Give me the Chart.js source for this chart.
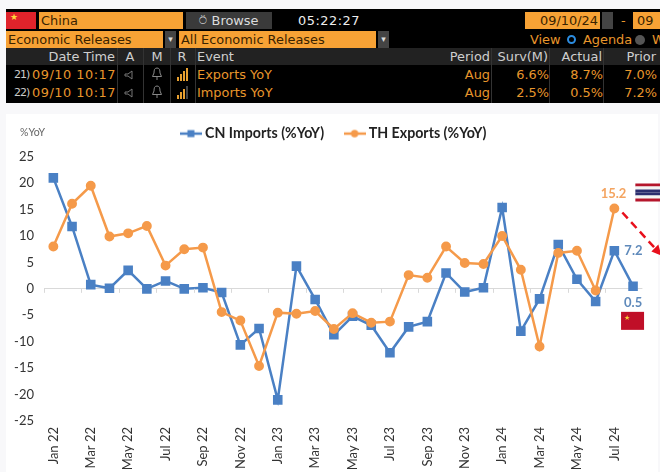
<!DOCTYPE html>
<html>
<head>
<meta charset="utf-8">
<title>CN imports vs TH exports</title>
<script src="https://cdn.jsdelivr.net/npm/chart.js@4"></script>
<style>
    html, body { margin: 0; padding: 0; width: 660px; height: 472px; overflow: hidden; background: #f8f8fa; }
    #term { position: absolute; left: 6px; top: 9px; width: 654px; height: 94px; background: #000; overflow: hidden;
            font-family: "DejaVu Sans", sans-serif; font-size: 12.9px; line-height: 17px; color: #e8962c; }
    #term div { position: absolute; white-space: nowrap; }
    .fld { background: #f7a235; color: #3a2200; height: 17px; }
    .hdr { color: #cfcfcf; }
    .r { text-align: right; }
    .num { letter-spacing: 0.5px; }
    #panel { position: absolute; left: 6px; top: 114px; width: 652px; height: 358px; background: #fff; }
    #wrap { position: absolute; left: 0; top: 103px; width: 660px; height: 369px; }
</style>
</head>
<body>
<div id="panel"></div>
<div id="term"></div>
<div id="wrap"><canvas id="chart" width="660" height="369"></canvas></div>
<script>
// Chart data
var months = ["Jan 22","Feb 22","Mar 22","Apr 22","May 22","Jun 22","Jul 22","Aug 22","Sep 22","Oct 22","Nov 22","Dec 22",
              "Jan 23","Feb 23","Mar 23","Apr 23","May 23","Jun 23","Jul 23","Aug 23","Sep 23","Oct 23","Nov 23","Dec 23",
              "Jan 24","Feb 24","Mar 24","Apr 24","May 24","Jun 24","Jul 24","Aug 24"];
var cnImports = [21,11.8,0.8,0.1,3.5,0,1.5,0,0.2,-0.7,-10.6,-7.5,
                 -21,4.3,-2,-8.7,-5.2,-6.9,-12.1,-7.2,-6.2,3,-0.6,0.2,
                 15.4,-8,-1.9,8.4,1.8,-2.4,7.2,0.5];
var thExports = [8,16.1,19.5,9.9,10.5,11.9,4.4,7.5,7.8,-4.4,-6,-14.6,
                 -4.5,-4.7,-4.2,-7.6,-4.6,-6.4,-6.2,2.6,2.1,8,4.9,4.7,
                 10,3.6,-10.9,6.8,7.2,-0.3,15.2,null];
var yTicks = [25,20,15,10,5,0,-5,-10,-15,-20,-25];

// Terminal table data
var eventRows = [
    ["21)","09/10 10:17","Exports YoY","Aug","6.6%","8.7%","7.0%"],
    ["22)","09/10 10:17","Imports YoY","Aug","2.5%","0.5%","7.2%"]
];

const BLUE = "#4a80c4";
const ORANGE = "#f59a4a";
const FONT = "Lato, sans-serif";

const SPEAKER = '<svg width="12" height="12" viewBox="0 0 12 12"><path d="M1 5h3l4-3v8L4 7H1z" fill="none" stroke="#777"/></svg>';
const BELL = '<svg width="12" height="14" viewBox="0 0 12 14"><path d="M6 1C3.5 1 3 3 3 6L1.5 9.5h9L9 6C9 3 8.5 1 6 1zM6 9.5V13" fill="none" stroke="#888"/></svg>';

// Build the black terminal strip on top
function addBox(left, top, width, height, text, cls, css) {
    var d = document.createElement("div");
    d.style.left = left + "px";
    d.style.top = top + "px";
    d.style.width = width + "px";
    d.style.height = height + "px";
    if (cls) d.className = cls;
    if (text) d.textContent = text;
    if (css) d.style.cssText += css;
    document.getElementById("term").appendChild(d);
    return d;
}

function buildTerm() {
    // Row 1
    addBox(0, 3, 30, 17, "", "", "background:#e0232b");
    addBox(4, 3, 12, 12, "★", "", "color:#ffd83a;font-size:9px;line-height:10px");
    addBox(33, 3, 144, 17, "China", "fld", "text-indent:2px");
    addBox(180, 3, 86, 17, "⍥ Browse", "", "background:#3a3a3a;color:#ddd;text-align:center");
    addBox(292, 3, 70, 17, "05:22:27", "num", "color:#eee");
    addBox(519, 3, 75, 17, "09/10/24", "fld r", "padding-right:2px;width:73px");
    addBox(596, 3, 11, 17, "", "", "background:#444");
    addBox(615, 3, 10, 17, "-");
    addBox(627, 3, 27, 17, "09", "fld", "text-indent:4px");
    // Row 2
    addBox(0, 22, 157, 17, "Economic Releases", "fld", "text-indent:2px");
    addBox(159, 22, 11, 17, "▾", "", "background:#444;color:#ddd;font-size:9px;text-align:center");
    addBox(173, 22, 197, 17, "All Economic Releases", "fld", "text-indent:2px");
    addBox(372, 22, 11, 17, "▾", "", "background:#444;color:#ddd;font-size:9px;text-align:center");
    addBox(524, 22, 32, 17, "View");
    addBox(561, 26, 5, 5, "", "", "border:2.5px solid #2c8ce0;border-radius:50%");
    addBox(577, 22, 52, 17, "Agenda");
    addBox(629, 26, 10, 10, "", "", "background:#555;border-radius:50%");
    addBox(646, 22, 10, 17, "W");
    // Header
    addBox(0, 39, 654, 17, "", "", "background:#222");
    addBox(0, 39, 109, 17, "Date Time", "hdr r");
    addBox(114, 39, 20, 17, "A", "hdr", "text-align:center");
    addBox(141, 39, 20, 17, "M", "hdr", "text-align:center");
    addBox(166, 39, 20, 17, "R", "hdr", "text-align:center");
    addBox(191, 39, 60, 17, "Event", "hdr");
    addBox(420, 39, 64, 17, "Period", "hdr r");
    addBox(486, 39, 56, 17, "Surv(M)", "hdr r");
    addBox(544, 39, 52, 17, "Actual", "hdr r");
    addBox(600, 39, 50, 17, "Prior", "hdr r");
    // Event rows
    eventRows.forEach(function (row, i) {
        var top = 57 + i * 18;
        addBox(8, top, 20, 17, row[0], "", "color:#ccc;font-size:11px;letter-spacing:-1px");
        addBox(26, top, 84, 17, row[1], "num");
        addBox(118, top + 2, 12, 14, "", "").innerHTML = SPEAKER;
        addBox(145, top + 1, 12, 15, "", "").innerHTML = BELL;
        addBox(191, top, 120, 17, row[2]);
        addBox(420, top, 64, 17, row[3], "r");
        addBox(486, top, 57, 17, row[4], "r");
        addBox(544, top, 53, 17, row[5], "r");
        addBox(600, top, 51, 17, row[6], "r");
        // signal bars in the R column
        [4, 7, 10, 13].forEach(function (h, j) {
            addBox(171 + j * 3, top + 15 - h, 2, h, "", "", "background:" + (j < 3 + (i == 0 ? 1 : 0) ? "#e8a030" : "#444"));
        });
    });
    // column separators
    [111, 137, 164, 189, 485, 543, 597].forEach(function (x) {
        addBox(x, 39, 1, 55, "", "", "background:#333");
    });
}

// Legend swatch: a short line with the marker in the middle
function legendSwatch(color, style) {
    var c = document.createElement("canvas");
    c.width = 22;
    c.height = 10;
    var g = c.getContext("2d");
    g.strokeStyle = color;
    g.fillStyle = color;
    g.lineWidth = 2.5;
    g.beginPath();
    g.moveTo(0, 5);
    g.lineTo(22, 5);
    g.stroke();
    if (style == "rect") {
        g.fillRect(7.5, 1.5, 7, 7);
    } else {
        g.beginPath();
        g.arc(11, 5, 3.7, 0, Math.PI * 2);
        g.fill();
    }
    return c;
}

// Everything annotated on the plot: zero-line ticks, %YoY, end labels, flags, arrow
var annotations = {
    id: "annotations",
    beforeLayout: function (chart) {
        // more room under the legend
        var legend = chart.legend;
        var fit = legend.fit;
        legend.fit = function () {
            fit.call(legend);
            legend.height += 6;
        };
    },
    afterLayout: function (chart) {
        // the legend sits right of the plot centre in the original
        chart.legend.left += 28;
    },
    afterDatasetsDraw: function (chart) {
        var ctx = chart.ctx;
        var x = chart.scales.x;
        var y = chart.scales.y;
        var zero = y.getPixelForValue(0);
        var step = x.getPixelForValue(1) - x.getPixelForValue(0);
        var last = months.length - 1;

        ctx.save();
        ctx.font = "10.5px " + FONT;
        ctx.fillStyle = "#666";
        ctx.textBaseline = "middle";
        ctx.textAlign = "left";
        ctx.fillText("%YoY", 20, 30);

        ctx.font = "bold 13px " + FONT;
        ctx.fillStyle = "#f4a460";
        ctx.textAlign = "right";
        ctx.fillText(String(thExports[last - 1].toFixed(1)), x.getPixelForValue(last - 1) + 12, y.getPixelForValue(thExports[last - 1]) - 15);
        ctx.fillStyle = "#5f8abb";
        ctx.textAlign = "left";
        ctx.fillText(String(cnImports[last - 1].toFixed(1)), x.getPixelForValue(last - 1) + 10, y.getPixelForValue(cnImports[last - 1]));
        ctx.fillText(String(cnImports[last].toFixed(1)), x.getPixelForValue(last) - 9, y.getPixelForValue(cnImports[last]) + 17);

        // Red dashed arrow leaving the chart on the right
        var ax = x.getPixelForValue(last - 1);
        var ay = y.getPixelForValue(thExports[last - 1]);
        ctx.strokeStyle = "#e8101c";
        ctx.fillStyle = "#e8101c";
        ctx.lineWidth = 2.5;
        ctx.setLineDash([8, 5]);
        ctx.beginPath();
        ctx.moveTo(ax + 8, ay + 4);
        ctx.lineTo(ax + 40, ay + 39);
        ctx.stroke();
        ctx.setLineDash([]);
        ctx.beginPath();
        ctx.moveTo(ax + 47, ay + 47);
        ctx.lineTo(ax + 37, ay + 43);
        ctx.lineTo(ax + 44, ay + 36);
        ctx.closePath();
        ctx.fill();

        // Thai flag
        var fx = ax + 21;
        var fy = ay - 25;
        var stripes = ["#b5162c", "#f4f4f4", "#2b2d6e", "#2b2d6e", "#f4f4f4", "#b5162c"];
        stripes.forEach(function (c, i) {
            ctx.fillStyle = c;
            ctx.fillRect(fx, fy + i * 3, 25, 3);
        });
        // Chinese flag
        var cx = x.getPixelForValue(last) - 12;
        var cy = zero + 23;
        ctx.fillStyle = "#c00f28";
        ctx.fillRect(cx, cy, 23, 18);
        ctx.fillStyle = "#f7d038";
        ctx.font = "7px " + FONT;
        ctx.textAlign = "left";
        ctx.fillText("★", cx + 3, cy + 6);
        ctx.restore();

        // Small tick marks on the zero line, every second category
        ctx.save();
        ctx.strokeStyle = "#d9d9d9";
        ctx.lineWidth = 1;
        months.forEach(function (m, i) {
            if (i % 2 == 0) {
                var tx = Math.round(x.getPixelForValue(i) - step / 2) + 0.5;
                ctx.beginPath();
                ctx.moveTo(tx, zero);
                ctx.lineTo(tx, zero + 4);
                ctx.stroke();
            }
        });
        ctx.restore();
    }
};

buildTerm();

var ctx = document.getElementById("chart");
var lineChart = new Chart(ctx, {
    type: "line",
    data: {
        labels: months,
        datasets: [{
            label: "CN Imports (%YoY)",
            data: cnImports,
            borderColor: BLUE,
            backgroundColor: BLUE,
            borderWidth: 2.5,
            pointStyle: "rect",
            pointRadius: 5,
            tension: 0,
            order: 2
        }, {
            label: "TH Exports (%YoY)",
            data: thExports,
            borderColor: ORANGE,
            backgroundColor: ORANGE,
            borderWidth: 2.5,
            pointStyle: "circle",
            pointRadius: 3.7,
            tension: 0,
            order: 1
        }]
    },
    plugins: [annotations],
    options: {
        responsive: false,
        animation: false,
        layout: { padding: { top: 0, left: 0, right: 17.6, bottom: 0 } },
        plugins: {
            tooltip: { enabled: false },
            legend: {
                position: "top",
                align: "center",
                labels: {
                    usePointStyle: true,
                    pointStyleWidth: 14,
                    padding: 23.5,
                    color: "#222",
                    font: { family: FONT, size: 14.2, weight: "bold" },
                    generateLabels: function (chart) {
                        return chart.data.datasets.map(function (ds, i) {
                            return {
                                text: ds.label,
                                fontColor: "#222",
                                pointStyle: legendSwatch(ds.borderColor, ds.pointStyle),
                                datasetIndex: i,
                                lineWidth: 0
                            };
                        });
                    }
                }
            }
        },
        scales: {
            x: {
                offset: true,
                grid: { display: false },
                border: { display: false },
                afterFit: function (scale) { scale.height = 51; },
                ticks: {
                    autoSkip: false,
                    minRotation: 90,
                    maxRotation: 90,
                    color: "#333",
                    padding: -2,
                    font: { family: FONT, size: 13 },
                    callback: function (value, index) {
                        return index % 2 == 0 ? months[index] : "";
                    }
                }
            },
            y: {
                min: -25,
                max: 25,
                afterFit: function (scale) { scale.width = 44; },
                afterBuildTicks: function (scale) {
                    scale.ticks = yTicks.map(function (v) { return { value: v }; });
                },
                border: { display: false },
                grid: {
                    drawTicks: false,
                    color: function (c) { return c.tick.value === 0 ? "#d9d9d9" : "transparent"; }
                },
                ticks: {
                    color: "#333",
                    padding: 10,
                    font: { family: FONT, size: 13 }
                }
            }
        }
    }
});
</script>
</body>
</html>
